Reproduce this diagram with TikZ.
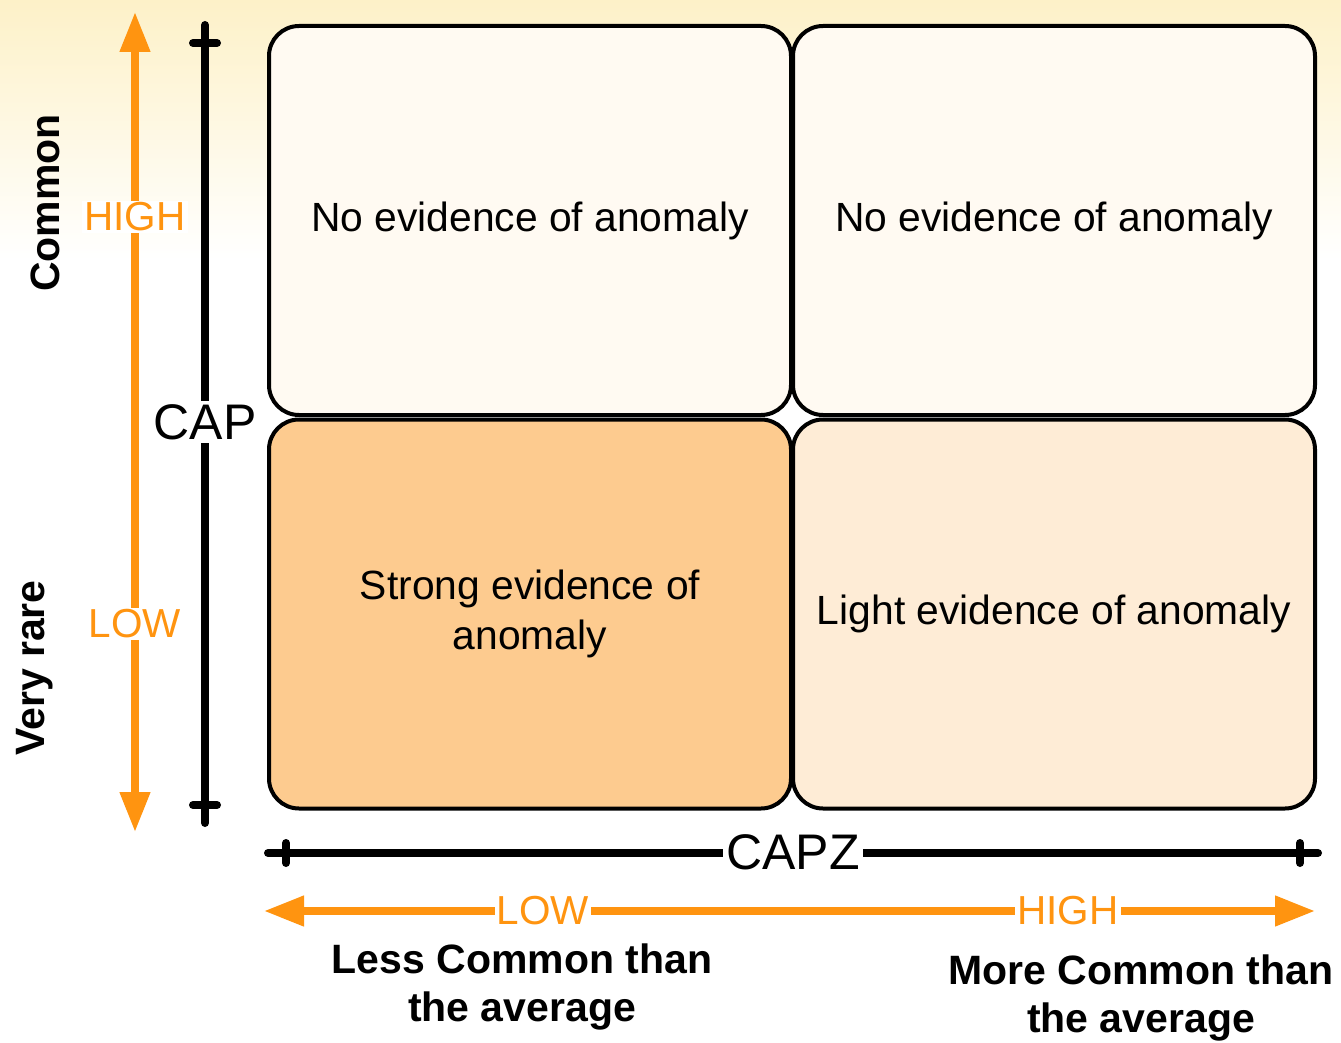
\documentclass[tikz,border=0pt]{standalone}
\usepackage{fontspec}
\setmainfont{Liberation Sans}
\usetikzlibrary{arrows.meta}
\definecolor{orng}{RGB}{255,148,16}
\definecolor{bgtop}{RGB}{253,241,200}
\definecolor{boxlight}{RGB}{255,250,242}
\definecolor{boxstrong}{RGB}{253,203,143}
\definecolor{boxmid}{RGB}{254,236,214}
\begin{document}
\begin{tikzpicture}[x=1pt,y=-1pt,
  cell/.style={draw=black,line width=4pt,rounded corners=30pt,minimum width=522pt,minimum height=389pt,inner sep=0pt,align=center,font=\fontsize{40.8}{50}\selectfont},
  axisline/.style={line width=8pt,line cap=round,black},
  tickline/.style={line width=8pt,line cap=round,black},
  oarrow/.style={line width=7.5pt,orng,{Triangle[length=40pt,width=29pt]}-{Triangle[length=40pt,width=29pt]}},
  olabel/.style={fill=white,text=orng,inner sep=2pt,font=\fontsize{40.5}{40}\selectfont},
  axlabel/.style={fill=white,text=black,inner sep=3pt,font=\fontsize{50}{50}\selectfont},
  blabel/.style={align=center,font=\bfseries\fontsize{41}{48}\selectfont},
  sidelabel/.style={rotate=90,font=\bfseries\fontsize{41}{48}\selectfont}]
\useasboundingbox (0,0) rectangle (1341,1043);
\fill[white] (0,0) rectangle (1341,1043);
\shade[top color=bgtop,bottom color=white] (0,0) rectangle (1341,260);
% cells
\node[cell,fill=boxlight] (tl) at (530,220.5) {\raisebox{-2pt}{No evidence of anomaly}};
\node[cell,fill=boxlight] (tr) at (1054,220.5) {\raisebox{-2pt}{No evidence of anomaly}};
\node[cell,fill=boxstrong] (bl) at (530,614) {Strong evidence of\\anomaly};
\node[cell,fill=boxmid] (br) at (1054,614) {Light evidence of anomaly};
% vertical black axis
\coordinate (capT) at (205,25);
\coordinate (capB) at (205,823);
\draw[axisline] (capT) -- (capB);
\draw[tickline] (193,43) -- (217,43);
\draw[tickline] (193,805) -- (217,805);
\node[axlabel] (cap) at (205,422) {CAP};
% horizontal black axis
\coordinate (capzL) at (268,853);
\coordinate (capzR) at (1318,853);
\draw[axisline] (capzL) -- (capzR);
\draw[tickline] (286,843) -- (286,863);
\draw[tickline] (1300,843) -- (1300,863);
\node[axlabel] (capz) at (793,852) {CAPZ};
% vertical orange arrow
\coordinate (oT) at (135,12);
\coordinate (oB) at (135,832);
\draw[oarrow] (oT) -- (oB);
\node[olabel] (vhigh) at (135,217) {HIGH};
\node[olabel] (vlow) at (135,624) {LOW};
% horizontal orange arrow
\coordinate (oL) at (264,911);
\coordinate (oR) at (1315,911);
\draw[oarrow] (oL) -- (oR);
\node[olabel] (hlow) at (543,911) {LOW};
\node[olabel] (hhigh) at (1068,911) {HIGH};
% labels
\node[sidelabel] (common) at (45,203) {Common};
\node[sidelabel] (rare) at (35,668) {Very rare};
\node[blabel] (less) at (522,987) {Less Common than\\the average};
\node[blabel] (more) at (1141,998) {More Common than\\the average};
\end{tikzpicture}
\end{document}
